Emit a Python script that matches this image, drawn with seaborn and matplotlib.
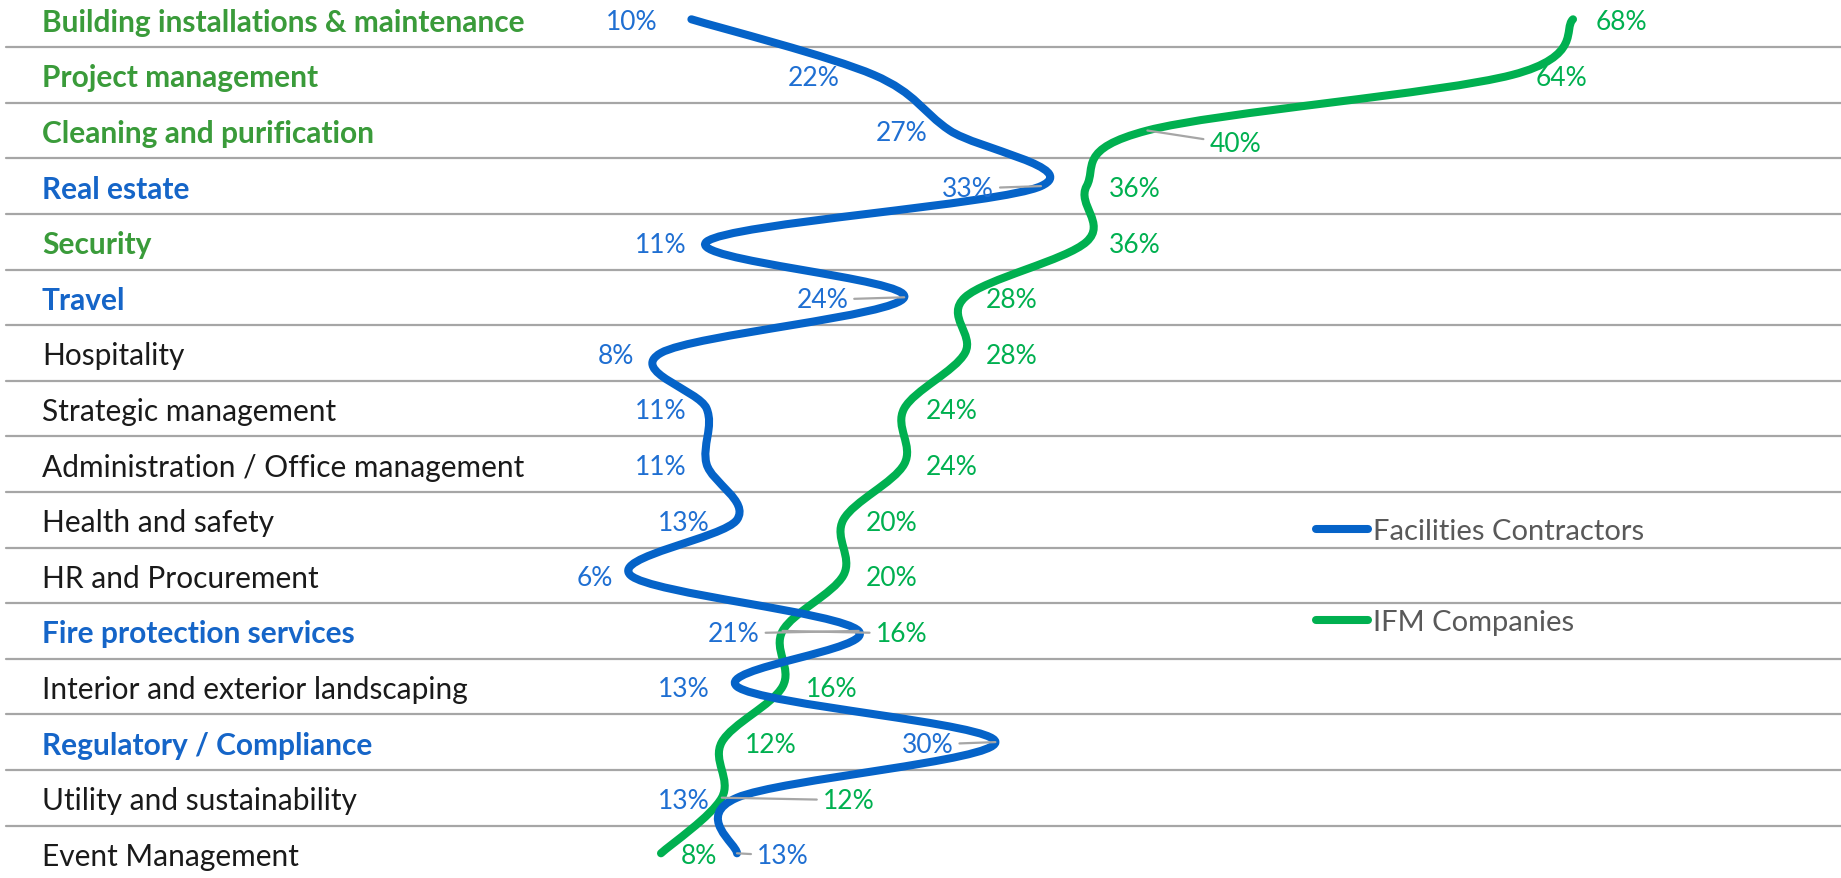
import numpy as np
import pandas as pd
import matplotlib
matplotlib.use("Agg")
import matplotlib.pyplot as plt
import seaborn as sns
from matplotlib.path import Path
from matplotlib.patches import PathPatch

# ---- data -------------------------------------------------------------
categories = [
    "Building installations & maintenance",
    "Project management",
    "Cleaning and purification",
    "Real estate",
    "Security",
    "Travel",
    "Hospitality",
    "Strategic management",
    "Administration / Office management",
    "Health and safety",
    "HR and Procurement",
    "Fire protection services",
    "Interior and exterior landscaping",
    "Regulatory / Compliance",
    "Utility and sustainability",
    "Event Management",
]
facilities = [10, 22, 27, 33, 11, 24, 8, 11, 11, 13, 6, 21, 13, 30, 13, 13]
ifm = [68, 64, 40, 36, 36, 28, 28, 24, 24, 20, 20, 16, 16, 12, 12, 8]
series_names = ["Facilities Contractors", "IFM Companies"]

# category label emphasis: g = bold green, b = bold blue, n = plain
category_style = ["g", "g", "g", "b", "g", "b", "n", "n", "n", "n", "n", "b", "n", "b", "n", "n"]

# ---- styling -----------------------------------------------------------
BLUE_LINE = "#0563C8"
GREEN_LINE = "#00B050"
BLUE_TXT = "#1F6FD2"
GREEN_TXT = "#00B050"
BOLD_GREEN = "#3A9B3A"
BOLD_BLUE = "#1565C8"
GRID = "#A6A6A6"
LEADER = "#A6A6A6"
FONT = ["Lato", "DejaVu Sans"]

# label placement per point: (dx px, dy px, leader line)
blue_label_pos = [(-34, 0, 0), (-34, 0, 0), (-22, 0, 0), (-47, 0, 1), (-20, 0, 0),
                  (-56, 0, 1), (-27, 0, 0), (-20, 0, 0), (-20, 0, 0), (-27, 0, 0),
                  (-18, 0, 0), (-99, 0, 1), (-27, 0, 0), (-42, 0, 1), (-27, 0, 0),
                  (20, 0, 1)]
green_label_pos = [(23, 0, 0), (23, 0, 0), (62, -11, 1), (22, 0, 0), (22, 0, 0),
                   (21, 0, 0), (21, 0, 0), (22, 0, 0), (22, 0, 0), (22, 0, 0),
                   (22, 0, 0), (93, 0, 1), (23, 0, 0), (23, 0, 0), (101, 0, 1),
                   (20, 0, 0)]

sns.set_theme(style="white")
plt.rcParams["font.family"] = FONT

W, H, DPI = 1841, 879, 100
fig = plt.figure(figsize=(W / DPI, H / DPI), dpi=DPI)
ax = fig.add_axes([0, 0, 1, 1])

# pixel geometry -> data limits
x0_px, x_per_unit = 539.4, 15.2
row0_px, row_h = 20.3, 55.6
ax.set_xlim(-x0_px / x_per_unit, (W - x0_px) / x_per_unit)
ax.set_ylim((H - row0_px) / row_h, -row0_px / row_h)
ax.axis("off")

n = len(categories)
rows = np.arange(n)

# separators between rows
for k in range(n - 1):
    ax.axhline(k + 0.5, xmin=6 / W, xmax=1, color=GRID, lw=1.6, zorder=1)

# category labels
for i, (cat, st) in enumerate(zip(categories, category_style)):
    color = {"g": BOLD_GREEN, "b": BOLD_BLUE, "n": "#1A1A1A"}[st]
    weight = "bold" if st in "gb" else "normal"
    ax.text(42 / W, i, cat, transform=ax.get_yaxis_transform(), ha="left",
            va="center_baseline", fontsize=21.5, color=color,
            fontweight=weight, family=FONT)


def smooth_path(xs, ys):
    """Catmull-Rom style Bezier path through the points."""
    pts = np.column_stack([xs, ys]).astype(float)
    m = len(pts)
    verts = [pts[0]]
    codes = [Path.MOVETO]
    for j in range(m - 1):
        p0 = pts[j - 1] if j > 0 else pts[j]
        p1 = pts[j]
        p2 = pts[j + 1]
        p3 = pts[j + 2] if j + 2 < m else pts[j + 1]
        c1 = p1 + (p2 - p0) / 6.0
        c2 = p2 - (p3 - p1) / 6.0
        verts += [c1, c2, p2]
        codes += [Path.CURVE4] * 3
    return Path(verts, codes)


df = pd.DataFrame({
    "category": categories * 2,
    "row": list(rows) * 2,
    "value": facilities + ifm,
    "series": [series_names[0]] * n + [series_names[1]] * n,
})

for name, vals, lc in [(series_names[1], ifm, GREEN_LINE),
                       (series_names[0], facilities, BLUE_LINE)]:
    patch = PathPatch(smooth_path(vals, rows), facecolor="none", edgecolor=lc,
                      lw=5.8, capstyle="round", joinstyle="round", zorder=3)
    ax.add_patch(patch)

sns.scatterplot(data=df, x="value", y="row", hue="series",
                palette=[BLUE_LINE, GREEN_LINE], s=12, linewidth=0,
                legend=False, ax=ax, zorder=4)


def add_labels(vals, positions, color):
    for i, (v, (dx, dy, lead)) in enumerate(zip(vals, positions)):
        ha = "right" if dx < 0 else "left"
        kw = {}
        if lead:
            kw["arrowprops"] = dict(arrowstyle="-", color=LEADER, lw=1.6,
                                    shrinkA=2, shrinkB=0)
        ax.annotate(f"{v}%", xy=(v, i), xytext=(dx, dy),
                    textcoords="offset pixels", ha=ha, va="center_baseline",
                    fontsize=19, color=color, family=FONT, zorder=5, **kw)


add_labels(facilities, blue_label_pos, BLUE_TXT)
add_labels(ifm, green_label_pos, GREEN_TXT)

# legend
for name, lc, ypx in [(series_names[0], BLUE_LINE, 529.5),
                      (series_names[1], GREEN_LINE, 621)]:
    yf = 1 - ypx / H
    ax.plot([1316 / W, 1368 / W], [yf, yf], transform=fig.transFigure,
            color=lc, lw=5.8, solid_capstyle="round", clip_on=False)
    ax.text(1373 / W, yf, name, transform=fig.transFigure, ha="left",
            va="center_baseline", fontsize=21, color="#595959", family=FONT)

fig.savefig("out.png", dpi=DPI)
